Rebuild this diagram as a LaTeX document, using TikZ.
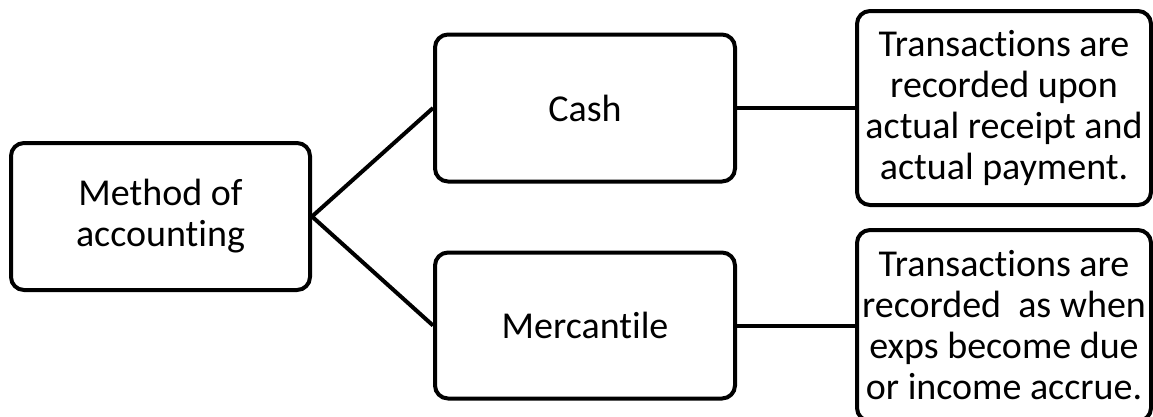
\documentclass[tikz,border=0pt]{standalone}
\usepackage{fontspec}
\setmainfont{Carlito}[RawFeature={-liga;-calt;-clig}]
\begin{document}
\begin{tikzpicture}[x=1pt,y=-1pt,
  box/.style={draw=black, line width=4pt, rounded corners=13pt, fill=white,
    align=center, inner sep=0pt, font=\fontsize{38}{41}\selectfont},
  link/.style={draw=black, line width=4pt}]
  \useasboundingbox (0,0) rectangle (1153,416);
  \clip (0,0) rectangle (1153,416);

  % boxes
  \node[box, minimum width=299pt, minimum height=147pt] (method) at (160.5,216.5) {Method of\\accounting};
  \node[box, minimum width=300pt, minimum height=147pt] (cash) at (585,108) {Cash};
  \node[box, minimum width=300pt, minimum height=146pt] (merc) at (585,325.5) {Mercantile};
  \node[box, minimum width=294pt, minimum height=194pt] (cashdesc) at (1004,108)
    {Transactions are\\recorded upon\\actual receipt and\\actual payment.};
  \node[box, minimum width=294pt, minimum height=191pt] (mercdesc) at (1004,325.5)
    {Transactions are\\recorded\ \ as when\\exps become due\\or income accrue.};

  % connectors
  \draw[link] (method.east) -- (cash.west);
  \draw[link] (method.east) -- (merc.west);
  \draw[link] (cash.east) -- (cashdesc.west);
  \draw[link] (merc.east) -- (mercdesc.west);
\end{tikzpicture}
\end{document}
